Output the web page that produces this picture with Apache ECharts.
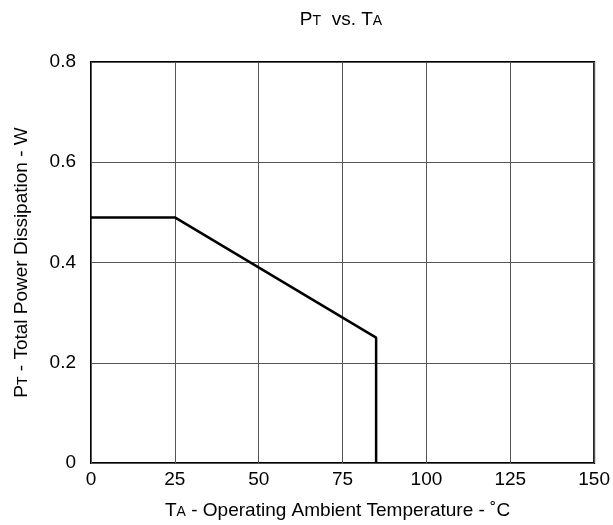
<!DOCTYPE html>
<html><head><meta charset="utf-8">
<script src="https://cdn.jsdelivr.net/npm/echarts@6/dist/echarts.min.js"></script>
<style>html,body{margin:0;padding:0;background:#fff}#c{width:613px;height:525px}</style>
</head><body><div id="c"></div>
<script>
const tempC = [0, 25, 85, 85];
const powerW = [0.49, 0.49, 0.25, 0];
const xTicks = [0, 25, 50, 75, 100, 125, 150];
const yTicks = ['0', '0.2', '0.4', '0.6', '0.8'];

const chart = echarts.init(document.getElementById('c'));
const F = 'Liberation Sans, Arial, sans-serif';
const big = (sz) => ({ fontSize: sz, fontFamily: F, color: '#000', fontWeight: 'normal' });
const sub = (sz, pb) => ({ fontSize: sz, fontFamily: F, color: '#000', fontWeight: 'normal', verticalAlign: 'bottom', padding: [0, 0, pb, 0] });
chart.setOption({
  animation: false,
  title: {
    text: '{b|P}{s|T}{b|  vs. T}{s|A}',
    left: 336, top: 5, textAlign: 'center',
    textStyle: { fontWeight: 'normal', rich: { b: big(19), s: sub(14, 1) } }
  },
  grid: { left: 91, right: 15, top: 62, bottom: 62, show: true, borderColor: '#000', borderWidth: 2 },
  xAxis: {
    type: 'value', min: 0, max: 150, interval: 25,
    axisLine: { show: false }, axisTick: { show: false },
    splitLine: { lineStyle: { color: '#555', width: 1 } },
    axisLabel: { fontSize: 19, fontFamily: F, color: '#000', margin: 7,
      formatter: v => xTicks.includes(v) ? String(v) : '' },
    name: '{b|T}{s|A}{b| - Operating Ambient Temperature - ˚C}',
    nameLocation: 'middle', nameGap: 38,
    nameTextStyle: { padding: [0, 10, 0, 0], rich: { b: big(19), s: sub(14, 1) } }
  },
  yAxis: {
    type: 'value', min: 0, max: 0.8, interval: 0.2,
    axisLine: { show: false }, axisTick: { show: false },
    splitLine: { lineStyle: { color: '#555', width: 1 } },
    axisLabel: { fontSize: 19, fontFamily: F, color: '#000', margin: 15,
      formatter: v => yTicks[Math.round(v / 0.2)] },
    name: '{b|P}{s|T}{b| - Total Power Dissipation - W}',
    nameLocation: 'middle', nameGap: 60, nameRotate: 90,
    nameTextStyle: { rich: { b: big(19), s: sub(14, 1) } }
  },
  series: [{
    type: 'line', symbol: 'none',
    data: tempC.map((t, i) => [t, powerW[i]]),
    lineStyle: { color: '#000', width: 2.5 }
  }]
});
</script></body></html>
